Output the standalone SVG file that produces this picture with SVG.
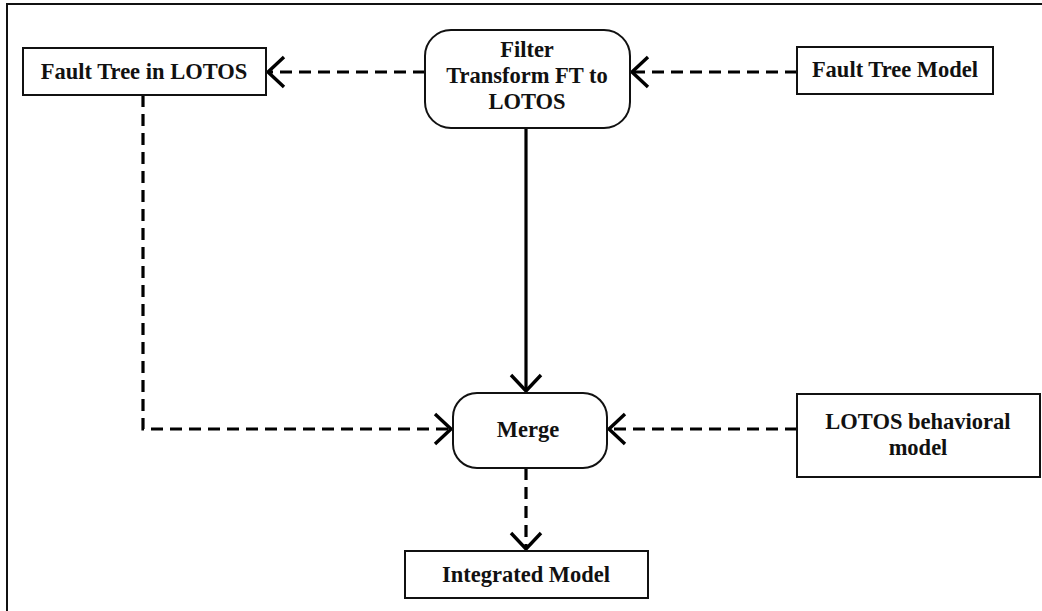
<svg xmlns="http://www.w3.org/2000/svg" width="1042" height="611" viewBox="0 0 1042 611">
  <style>
    .box { fill: #ffffff; stroke: #111111; stroke-width: 2; }
    .label { font-family: "Liberation Serif", "Times New Roman", serif; font-weight: bold; font-size: 22.5px; fill: #111111; text-anchor: middle; }
    .dash { fill: none; stroke: #000000; stroke-width: 3.2; stroke-dasharray: 12 7; }
    .solid { fill: none; stroke: #000000; stroke-width: 3.2; }
  </style>
  <defs>
    <marker id="open-arrow" viewBox="0 0 20 34" refX="18" refY="17" markerWidth="20" markerHeight="34" markerUnits="userSpaceOnUse" orient="auto">
      <path d="M2,2 L18,17 L2,32" fill="none" stroke="#000000" stroke-width="3.4"/>
    </marker>
  </defs>

  <rect width="1042" height="611" fill="#ffffff"/>
  <!-- frame -->
  <rect x="7" y="4" width="1045" height="620" fill="none" stroke="#111111" stroke-width="2"/>

  <g id="connectors">
    <!-- Fault Tree Model -> Filter -->
    <path class="dash" d="M797,72 L632,72" marker-end="url(#open-arrow)"/>
    <!-- Filter -> Fault Tree in LOTOS -->
    <path class="dash" d="M425,72 L268,72" marker-end="url(#open-arrow)"/>
    <!-- Filter -> Merge -->
    <path class="solid" d="M526,128 L526,391" marker-end="url(#open-arrow)"/>
    <!-- Fault Tree in LOTOS -> Merge -->
    <path class="dash" d="M143,95 L143,429 L451,429" marker-end="url(#open-arrow)"/>
    <!-- LOTOS behavioral model -> Merge -->
    <path class="dash" d="M797,429 L609,429" marker-end="url(#open-arrow)"/>
    <!-- Merge -> Integrated Model -->
    <path class="dash" d="M526,468 L526,549" marker-end="url(#open-arrow)"/>
  </g>

  <g id="fault-tree-lotos">
    <rect class="box" x="23" y="48" width="243" height="47"/>
    <text class="label" x="144" y="79">Fault Tree in LOTOS</text>
  </g>

  <g id="filter">
    <rect class="box" x="425" y="30" width="205" height="98" rx="26" ry="26"/>
    <text class="label" x="527" y="57">Filter</text>
    <text class="label" x="527" y="83">Transform FT to</text>
    <text class="label" x="527" y="109">LOTOS</text>
  </g>

  <g id="fault-tree-model">
    <rect class="box" x="797" y="47" width="196" height="47"/>
    <text class="label" x="895" y="77">Fault Tree Model</text>
  </g>

  <g id="merge">
    <rect class="box" x="453" y="393" width="154" height="75" rx="24" ry="24"/>
    <text class="label" x="528" y="437">Merge</text>
  </g>

  <g id="lotos-behavioral-model">
    <rect class="box" x="797" y="394" width="243" height="83"/>
    <text class="label" x="918" y="429">LOTOS behavioral</text>
    <text class="label" x="918" y="455">model</text>
  </g>

  <g id="integrated-model">
    <rect class="box" x="405" y="551" width="243" height="47"/>
    <text class="label" x="526" y="582">Integrated Model</text>
  </g>
</svg>
